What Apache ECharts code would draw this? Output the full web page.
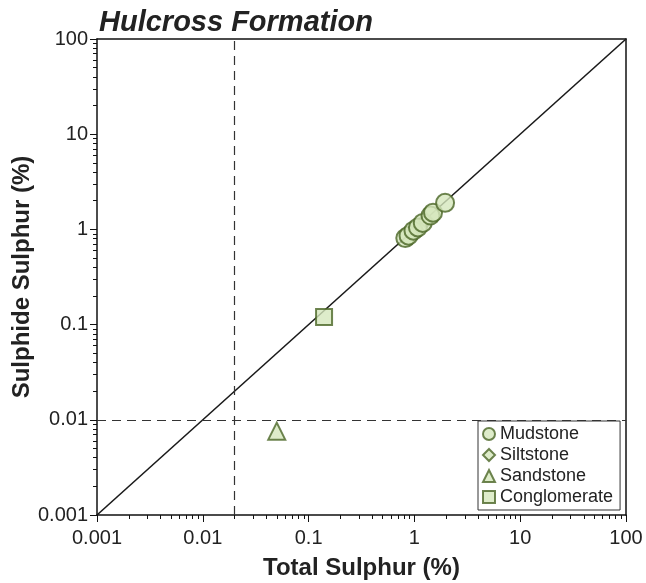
<!DOCTYPE html>
<html>
<head>
<meta charset="utf-8">
<script src="https://cdn.jsdelivr.net/npm/echarts@6/dist/echarts.min.js"></script>
<style>
  html, body { margin: 0; padding: 0; background: #fff; }
  #chart { width: 646px; height: 583px; }
</style>
</head>
<body>
<div id="chart"></div>
<script>
// values
var mudstone = [[0.82, 0.81], [0.88, 0.86], [0.98, 0.97], [1.08, 1.05], [1.2, 1.17], [1.42, 1.4], [1.5, 1.5], [1.95, 1.9]];
var siltstone = [[1.02, 1.0], [1.28, 1.25]];
var sandstone = [[0.05, 0.0076]];
var conglomerate = [[0.14, 0.12]];
var oneToOne = [[0.001, 0.001], [100, 100]];
var cutTotal = 0.02;
var cutSulphide = 0.01;
var majorTicks = [0.001, 0.01, 0.1, 1, 10, 100];

var minorTicks = [];
for (var k = 0; k < majorTicks.length - 1; k++) {
  for (var m = 2; m <= 9; m++) {
    minorTicks.push(+(majorTicks[k] * m).toPrecision(3));
  }
}

var fill = '#d6e7bd';
var edge = '#4a6526';
var ink = '#222';

function fmt(v) { return String(+Number(v).toPrecision(3)); }

var chart = echarts.init(document.getElementById('chart'));

var baseAxis = {
  type: 'log',
  logBase: 10,
  min: 0.001,
  max: 100
};

chart.setOption({
  animation: false,
  title: {
    text: 'Hulcross Formation',
    left: 94,
    top: 3,
    textStyle: { fontFamily: 'Liberation Sans', fontSize: 29, fontWeight: 'bold', fontStyle: 'italic', color: ink }
  },
  grid: { left: 97, right: 20, top: 39, bottom: 68, containLabel: false, outerBoundsMode: 'none' },
  legend: {
    orient: 'vertical',
    left: 478,
    top: 421,
    itemWidth: 12,
    itemHeight: 12,
    itemGap: 3,
    padding: [4, 7, 4, 4],
    borderColor: '#333',
    borderWidth: 1,
    borderRadius: 0,
    backgroundColor: '#fff',
    textStyle: { fontFamily: 'Liberation Sans', fontSize: 18, color: ink },
    data: ['Mudstone', 'Siltstone', 'Sandstone', 'Conglomerate']
  },
  xAxis: [
    Object.assign({}, baseAxis, {
      name: 'Total Sulphur (%)',
      nameLocation: 'middle',
      nameGap: 41,
      nameMoveOverlap: false,
      nameTextStyle: { fontFamily: 'Liberation Sans', fontSize: 24, fontWeight: 'bold', color: ink },
      axisLine: { show: true, onZero: false, lineStyle: { color: '#111', width: 1.5 } },
      axisTick: { show: true, inside: false, length: 7, lineStyle: { color: '#111' } },
      axisLabel: { fontFamily: 'Liberation Sans', fontSize: 20, color: ink, margin: 13, formatter: fmt },
      splitLine: { show: false }
    }),
    Object.assign({}, baseAxis, {
      position: 'bottom',
      axisLine: { show: false },
      axisTick: { show: true, inside: false, length: 4, customValues: minorTicks, lineStyle: { color: '#111' } },
      axisLabel: { show: false },
      splitLine: { show: false }
    }),
    Object.assign({}, baseAxis, {
      position: 'top',
      axisLine: { show: true, onZero: false, lineStyle: { color: '#111', width: 1.5 } },
      axisTick: { show: false },
      axisLabel: { show: false },
      splitLine: { show: false }
    })
  ],
  yAxis: [
    Object.assign({}, baseAxis, {
      name: 'Sulphide Sulphur (%)',
      nameLocation: 'middle',
      nameGap: 63,
      nameMoveOverlap: false,
      nameTextStyle: { fontFamily: 'Liberation Sans', fontSize: 24, fontWeight: 'bold', color: ink },
      axisLine: { show: true, onZero: false, lineStyle: { color: '#111', width: 1.5 } },
      axisTick: { show: true, inside: false, length: 7, lineStyle: { color: '#111' } },
      axisLabel: { fontFamily: 'Liberation Sans', fontSize: 20, color: ink, margin: 9, formatter: fmt },
      splitLine: { show: false }
    }),
    Object.assign({}, baseAxis, {
      position: 'left',
      axisLine: { show: false },
      axisTick: { show: true, inside: false, length: 4, customValues: minorTicks, lineStyle: { color: '#111' } },
      axisLabel: { show: false },
      splitLine: { show: false }
    }),
    Object.assign({}, baseAxis, {
      position: 'right',
      axisLine: { show: true, onZero: false, lineStyle: { color: '#111', width: 1.5 } },
      axisTick: { show: false },
      axisLabel: { show: false },
      splitLine: { show: false }
    })
  ],
  series: [
    {
      name: '1:1',
      type: 'line',
      data: oneToOne,
      symbol: 'none',
      silent: true,
      lineStyle: { color: '#1a1a1a', width: 1.6 },
      markLine: {
        silent: true,
        symbol: 'none',
        label: { show: false },
        lineStyle: { color: '#333', type: [9, 6], width: 1.2 },
        data: [{ xAxis: cutTotal }, { yAxis: cutSulphide }]
      },
      z: 1
    },
    {
      name: 'Conglomerate',
      type: 'scatter',
      symbol: 'rect',
      symbolSize: 16,
      data: conglomerate,
      itemStyle: { color: fill, borderColor: edge, borderWidth: 2 }
    },
    {
      name: 'Sandstone',
      type: 'scatter',
      symbol: 'triangle',
      symbolSize: 17,
      data: sandstone,
      itemStyle: { color: fill, borderColor: edge, borderWidth: 2 }
    },
    {
      name: 'Siltstone',
      type: 'scatter',
      symbol: 'diamond',
      symbolSize: 15,
      data: siltstone,
      itemStyle: { color: fill, borderColor: edge, borderWidth: 2 }
    },
    {
      name: 'Mudstone',
      type: 'scatter',
      symbol: 'circle',
      symbolSize: 18,
      data: mudstone,
      itemStyle: { color: fill, borderColor: edge, borderWidth: 2 }
    }
  ]
});
</script>
</body>
</html>
